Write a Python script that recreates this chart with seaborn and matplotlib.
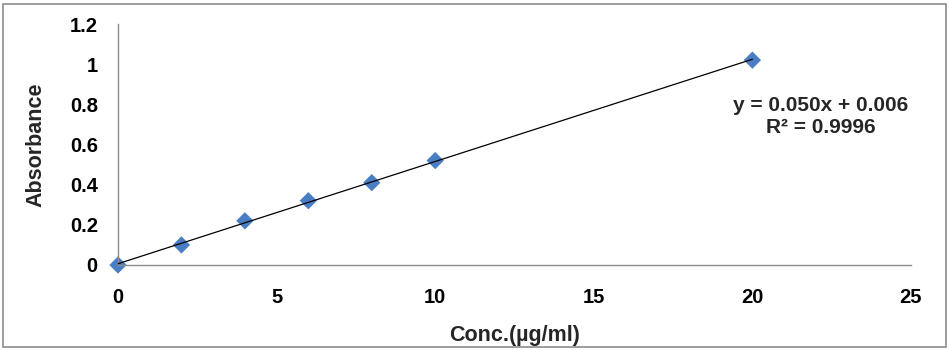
import matplotlib
matplotlib.use("Agg")
import matplotlib.pyplot as plt
import seaborn as sns
import pandas as pd
from matplotlib.patches import Rectangle

# Data
conc = [0, 2, 4, 6, 8, 10, 20]
absorbance = [0.0, 0.10, 0.22, 0.32, 0.41, 0.52, 1.02]
x_ticks = [0, 5, 10, 15, 20, 25]
y_ticks = [0, 0.2, 0.4, 0.6, 0.8, 1.0, 1.2]
y_tick_labels = ["0", "0.2", "0.4", "0.6", "0.8", "1", "1.2"]
equation_text = "y = 0.050x + 0.006\nR\u00b2 = 0.9996"

sns.set_style("white")
plt.rcParams["font.family"] = ["Liberation Sans", "DejaVu Sans"]
plt.rcParams["font.weight"] = "bold"

df = pd.DataFrame({"Conc": conc, "Absorbance": absorbance})

fig = plt.figure(figsize=(9.5, 3.5), dpi=100)
ax = fig.add_axes([118 / 950, 85 / 350, (911 - 118) / 950, (265 - 24) / 350])

sns.regplot(
    data=df, x="Conc", y="Absorbance", ax=ax, ci=None, marker="D",
    scatter_kws=dict(s=78, color="#4A7EC4", edgecolor="none", alpha=1,
                     zorder=2, clip_on=False),
    line_kws=dict(color="black", linewidth=0.9, zorder=3),
)

ax.set_xlim(0, 25)
ax.set_ylim(0, 1.2)
ax.set_xticks(x_ticks)
ax.set_xticklabels([str(t) for t in x_ticks])
ax.set_yticks(y_ticks)
ax.set_yticklabels(y_tick_labels)

for s in ["top", "right"]:
    ax.spines[s].set_visible(False)
for s in ["left", "bottom"]:
    ax.spines[s].set_color("#8c8c8c")
    ax.spines[s].set_linewidth(1.0)

ax.tick_params(axis="both", which="both", direction="out", length=4.5, width=1.0,
               color="#8c8c8c", labelsize=14.5, labelcolor="black")
ax.tick_params(axis="y", pad=10)
ax.tick_params(axis="x", pad=12)
for lab in ax.get_xticklabels() + ax.get_yticklabels():
    lab.set_fontweight("bold")

ax.set_xlabel("Conc.(\u00b5g/ml)", fontsize=15.5, fontweight="bold", labelpad=13)
ax.set_ylabel("Absorbance", fontsize=15.5, fontweight="bold", labelpad=17)

ax.text(22.16, 0.74, equation_text, ha="center", va="center", fontsize=15,
        fontweight="bold", multialignment="center", linespacing=1.15)

fig.patches.append(Rectangle((3 / 950, 3 / 350), 943 / 950, 343 / 350,
                             transform=fig.transFigure, fill=False,
                             edgecolor="#8c8c8c", linewidth=1.2))

fig.savefig("out.png", dpi=100)
